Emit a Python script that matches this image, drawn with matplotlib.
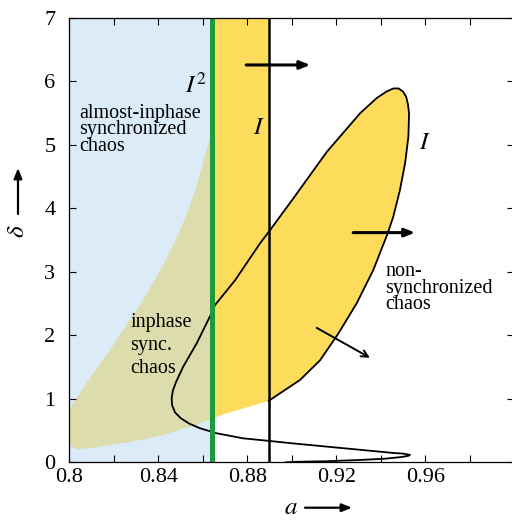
import numpy as np
import matplotlib
matplotlib.use("Agg")
import matplotlib.pyplot as plt

plt.rcParams["font.family"] = "serif"
plt.rcParams["font.serif"] = ["Liberation Serif", "DejaVu Serif"]
plt.rcParams["mathtext.fontset"] = "stix"

# ── Data ─────────────────────────────────────────────────────────────────────
a_green = 0.8642          # I^2 line
a_black = 0.8896          # vertical I line

# bifurcation curve I (bottom start -> tip -> turn -> loop top -> down to I line)
curve_a = [0.8970, 0.9007, 0.9157, 0.9307, 0.9420, 0.9490, 0.9524, 0.9531,
           0.9500, 0.9456, 0.9307, 0.9157, 0.9007, 0.8898, 0.8782, 0.8662,
           0.8587, 0.8540, 0.8500, 0.8475, 0.8462, 0.8460, 0.8466, 0.8480,
           0.8512, 0.8573, 0.8632, 0.8655, 0.8745, 0.8857,
           0.8896, 0.9007, 0.9157, 0.9307, 0.9382, 0.9425, 0.9456, 0.9480,
           0.9500, 0.9514, 0.9522, 0.9527, 0.9524, 0.9509, 0.9486, 0.9456,
           0.9430, 0.9366, 0.9292, 0.9209, 0.9127, 0.9037, 0.8947, 0.8896]
curve_d = [0.00, 0.01, 0.02, 0.04, 0.06, 0.085, 0.105, 0.12,
           0.14, 0.15, 0.20, 0.25, 0.30, 0.34, 0.38, 0.46,
           0.54, 0.61, 0.70, 0.79, 0.90, 1.02, 1.14, 1.27,
           1.51, 1.88, 2.30, 2.48, 2.87, 3.45,
           3.63, 4.16, 4.89, 5.50, 5.74, 5.84, 5.89, 5.89,
           5.84, 5.76, 5.64, 5.50, 5.13, 4.71, 4.29, 3.87,
           3.60, 3.03, 2.51, 2.03, 1.61, 1.30, 1.09, 0.97]
loop_start = 30          # index where the loop meets the I line on top

# upper border of the in-phase region (left edge -> I^2 line)
upper_a = [0.8000, 0.8040, 0.8087, 0.8140, 0.8192, 0.8250, 0.8312, 0.8365,
           0.8417, 0.8455, 0.8492, 0.8530, 0.8566, 0.8598, 0.8627, 0.8642]
upper_d = [0.83, 1.05, 1.30, 1.56, 1.82, 2.13, 2.45, 2.76,
           3.08, 3.34, 3.61, 3.93, 4.29, 4.68, 5.05, 5.19]

# lower border of the chaotic regions (left edge -> I line)
lower_a = [0.8000, 0.8008, 0.8020, 0.8042, 0.8120, 0.8192, 0.8270, 0.8342,
           0.8420, 0.8492, 0.8570, 0.8642, 0.8700, 0.8800, 0.8896]
lower_d = [0.30, 0.25, 0.225, 0.21, 0.24, 0.28, 0.32, 0.37,
           0.43, 0.51, 0.59, 0.69, 0.77, 0.87, 0.97]

x_ticks = [0.80, 0.82, 0.84, 0.86, 0.88, 0.90, 0.92, 0.94, 0.96, 0.98, 1.00]
x_labels = ["0.8", "", "0.84", "", "0.88", "", "0.92", "", "0.96", "", "1"]
y_ticks = [0, 1, 2, 3, 4, 5, 6, 7]

blue = "#dcebf8"
khaki = "#dddcac"
yellow = "#fddc5c"
green = "#1c9a3c"

fig = plt.figure(figsize=(5.12, 5.21), dpi=100)
ax = fig.add_axes([0.1354, 0.1123, 0.8691, 0.8532])

# ── regions ──────────────────────────────────────────────────────────────────
ax.axvspan(0.8, a_green, color=blue, lw=0, zorder=0)

lo_in = [(a, d) for a, d in zip(lower_a, lower_d) if a <= a_green]
kh = list(zip(upper_a, upper_d)) + lo_in[::-1]
ax.fill([p[0] for p in kh], [p[1] for p in kh], color=khaki, lw=0, zorder=1)

lo_band = [(a, d) for a, d in zip(lower_a, lower_d) if a >= a_green]
band = [(a_green, 7)] + lo_band + [(a_black, 7)]
ax.fill([p[0] for p in band], [p[1] for p in band], color=yellow, lw=0, zorder=1)

ax.fill(curve_a[loop_start:], curve_d[loop_start:], color=yellow, lw=0, zorder=1)

# ── curves ───────────────────────────────────────────────────────────────────
ax.plot(curve_a, curve_d, color="k", lw=1.3, zorder=3, solid_joinstyle="round")
ax.plot([a_black, a_black], [0, 7], color="k", lw=1.8, zorder=3)
ax.plot([a_green, a_green], [0, 7], color=green, lw=3.6, zorder=4)

# ── arrows ───────────────────────────────────────────────────────────────────
fat = dict(arrowstyle="-|>,head_length=0.5,head_width=0.2", lw=2.2, color="k",
           shrinkA=0, shrinkB=0, mutation_scale=12)
ax.annotate("", xy=(0.9083, 6.26), xytext=(0.8795, 6.26), arrowprops=fat, zorder=5)
ax.annotate("", xy=(0.9554, 3.62), xytext=(0.9276, 3.62), arrowprops=fat, zorder=5)
ax.annotate("", xy=(0.9351, 1.65), xytext=(0.9112, 2.12),
            arrowprops=dict(arrowstyle="->,head_length=0.4,head_width=0.2", lw=1.4,
                            color="k", shrinkA=0, shrinkB=0, mutation_scale=12),
            zorder=5)

# ── labels inside ────────────────────────────────────────────────────────────
ax.text(0.8615, 5.93, r"$I^2$", fontsize=18, ha="right", va="center", zorder=6)
ax.text(0.8852, 5.27, r"$I$", fontsize=18, ha="center", va="center", zorder=6)
ax.text(0.9599, 5.03, r"$I$", fontsize=18, ha="center", va="center", zorder=6)

ax.text(0.8044, 5.65, "almost-inphase\nsynchronized\nchaos", fontsize=14.5,
        ha="left", va="top", linespacing=0.82, zorder=6)
ax.text(0.8275, 2.36, "inphase\nsync.\nchaos", fontsize=14.5,
        ha="left", va="top", linespacing=1.3, zorder=6)
ax.text(0.9419, 3.15, "non-\nsynchronized\nchaos", fontsize=14.5,
        ha="left", va="top", linespacing=0.82, zorder=6)

# ── axes ─────────────────────────────────────────────────────────────────────
ax.set_xlim(0.8, 1.0)
ax.set_ylim(0, 7)
ax.set_xticks(x_ticks)
ax.set_xticklabels(x_labels)
ax.set_yticks(y_ticks)
ax.tick_params(direction="in", length=5, width=0.8, labelsize=16,
               top=True, right=True)
ax.tick_params(axis="x", pad=4)
ax.tick_params(axis="y", pad=10)
for s in ax.spines.values():
    s.set_linewidth(0.9)
    s.set_zorder(7)

# axis names with arrows
fig.text(291 / 512, 1 - 508 / 521, r"$a$", fontsize=18, ha="center", va="center")
ax.annotate("", xy=(352 / 512, 1 - 507.7 / 521), xytext=(305 / 512, 1 - 507.7 / 521),
            xycoords="figure fraction", textcoords="figure fraction",
            arrowprops=dict(arrowstyle="-|>,head_length=0.5,head_width=0.2", lw=1.6,
                            color="k", shrinkA=0, shrinkB=0, mutation_scale=12))
fig.text(18 / 512, 1 - 231 / 521, r"$\delta$", fontsize=18, rotation=90,
         ha="center", va="center")
ax.annotate("", xy=(18 / 512, 1 - 168 / 521), xytext=(18 / 512, 1 - 214 / 521),
            xycoords="figure fraction", textcoords="figure fraction",
            arrowprops=dict(arrowstyle="-|>,head_length=0.5,head_width=0.2", lw=1.6,
                            color="k", shrinkA=0, shrinkB=0, mutation_scale=12))

fig.savefig("out.png", dpi=100)
